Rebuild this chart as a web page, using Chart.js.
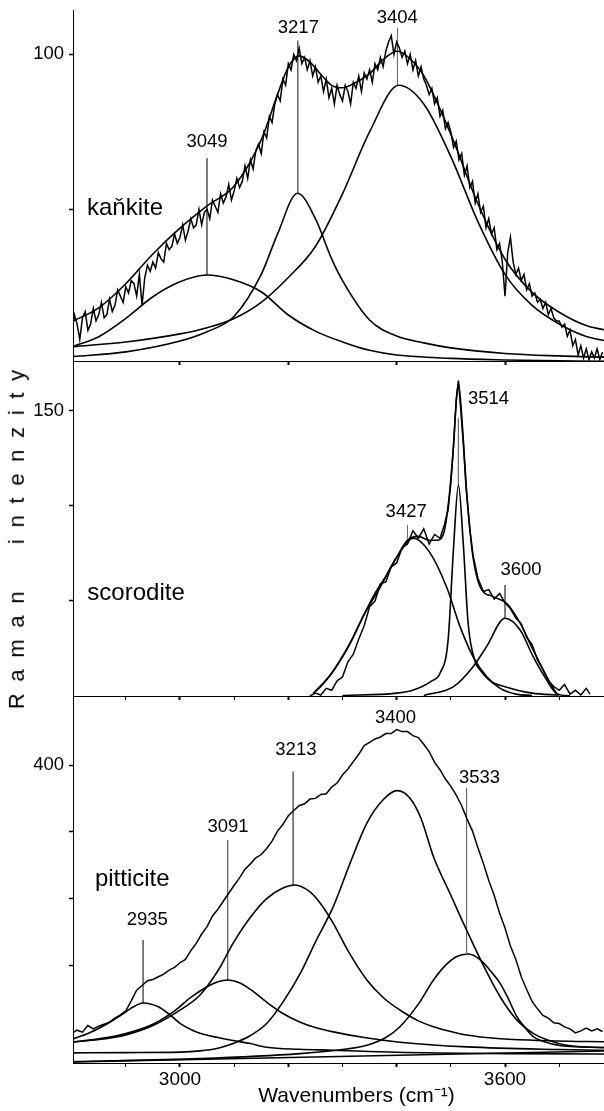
<!DOCTYPE html>
<html><head><meta charset="utf-8">
<script src="https://cdn.jsdelivr.net/npm/chart.js@4.4.1/dist/chart.umd.min.js"></script>
<style>
html,body{margin:0;padding:0;background:#fff;}
#wrap{position:relative;width:604px;height:1111px;overflow:hidden;background:#fff;}
.pan{position:absolute;left:0;}
#ytitle{position:absolute;left:0;top:0;font-family:"Liberation Sans",Arial,Helvetica,sans-serif;font-size:22px;letter-spacing:11.7px;white-space:pre;color:#000;line-height:1.15;}
</style></head><body>
<div id="wrap">
<canvas id="c1" class="pan" width="640" height="370" style="top:0px"></canvas>
<canvas id="c2" class="pan" width="640" height="349" style="top:356px"></canvas>
<canvas id="c3" class="pan" width="640" height="420" style="top:691px"></canvas>
<div id="ytitle">Raman  intenzity</div>
</div>
<script>
// ---------------- DATA ----------------
const xTickLabels = [3000, 3600];

// ---- kaňkite (top panel) ----
const kankiteWn = [2800,2805,2810,2815,2820,2825,2830,2835,2840,2845,
  2850,2855,2860,2865,2870,2875,2880,2885,2890,2895,
  2900,2905,2910,2915,2920,2925,2930,2935,2940,2945,
  2950,2955,2960,2965,2970,2975,2980,2985,2990,2995,
  3000,3005,3010,3015,3020,3025,3030,3035,3040,3045,
  3050,3055,3060,3065,3070,3075,3080,3085,3090,3095,
  3100,3105,3110,3115,3120,3125,3130,3135,3140,3145,
  3150,3155,3160,3165,3170,3175,3180,3185,3190,3195,
  3200,3205,3210,3215,3220,3225,3230,3235,3240,3245,
  3250,3255,3260,3265,3270,3275,3280,3285,3290,3295,
  3300,3305,3310,3315,3320,3325,3330,3335,3340,3345,
  3350,3355,3360,3365,3370,3375,3380,3385,3390,3395,
  3400,3405,3410,3415,3420,3425,3430,3435,3440,3445,
  3450,3455,3460,3465,3470,3475,3480,3485,3490,3495,
  3500,3505,3510,3515,3520,3525,3530,3535,3540,3545,
  3550,3555,3560,3565,3570,3575,3580,3585,3590,3595,
  3600,3605,3610,3615,3620,3625,3630,3635,3640,3645,
  3650,3655,3660,3665,3670,3675,3680,3685,3690,3695,
  3700,3705,3710,3715,3720,3725,3730,3735,3740,3745,
  3750,3755,3760,3765,3770,3775,3780];
const kankiteRaman = [10,16,13,8,15,17,11,13,18,14,
  16,20,15,16,21,17,19,24,22,20,
  25,23,27,26,22,29,19,28,32,30,
  33,31,36,34,33,39,37,38,42,39,
  41,45,40,43,47,44,45,50,45,49,
  50,47,53,51,49,55,52,54,58,53,
  56,60,57,59,64,60,66,63,69,71,
  68,75,73,80,78,84,87,85,92,90,
  97,95,100,98,102,97,99,95,98,93,
  96,91,93,88,92,86,89,84,90,87,
  85,90,88,84,91,89,93,88,94,92,
  95,91,97,95,99,96,101,104,106,100,
  104,102,99,101,97,100,95,98,93,96,
  92,90,87,89,84,86,80,82,76,78,
  75,70,72,66,68,61,64,57,59,52,
  55,49,51,44,47,42,44,37,39,33,
  22,36,41,33,29,31,27,29,24,26,
  22,23,20,21,18,20,16,18,15,14,
  14,12,13,9,11,6,8,3,6,2,
  5,1.5,4,2,5,1.5,4];
const kankiteFitWn = [2802,2850,2900,2950,3000,3050,3100,3150,3180,3200,3220,3240,3260,3280,3300,3320,3350,3380,3400,3420,3450,3500,3550,3600,3650,3700,3750,3800,3850];
const kankiteFit   = [13.9,18.2,26,35.6,43.9,51.1,57.5,72.4,87,95.9,99.5,97.5,93.5,90,89.2,90.5,93.8,99,101,99.3,93.1,74.2,51.8,33.9,23.2,16.8,12.5,10.6,9];
const kankiteB1Wn = [2802,2850,2900,2950,3000,3049,3100,3150,3200,3250,3300,3350,3400,3500,3600,3700,3850];
const kankiteB1   = [5.7,8.9,14.8,21.8,26.6,28.8,27.2,23.4,15.9,10.7,7.2,4.5,3.0,1.9,1.4,1.1,0.9];
const kankiteB2Wn = [2802,2900,3000,3050,3100,3150,3180,3217,3250,3280,3300,3350,3400,3450,3500,3600,3700,3850];
const kankiteB2   = [2.5,4.0,7.5,10.5,15.5,29,42,55.2,47,34,27,14.3,9.1,6.9,5.3,3.5,2.7,2.0];
const kankiteB3Wn = [2802,2900,3000,3050,3100,3150,3200,3250,3300,3350,3404,3450,3500,3550,3600,3650,3700,3750,3850];
const kankiteB3   = [5.7,7.2,9.8,11.8,14.8,20,28,38,55,75,90,84,67,46,29,19,13,9,6];
const kankitePeaks = ['3049','3217','3404'];
const kankitePeakWn = [3050,3218.5,3401];
const kankitePeakTextY = [70.2,106.8,110];
const kankiteLineWn = [3049.8,3217.4,3401.5];
const kankiteLineTop = [66.5,104.4,108.4];
const kankiteLineBottom = [28.8,55.2,90];

// ---- scorodite (middle panel) ----
const scoroditeWn = [3240,3250,3260,3270,3280,3290,3300,3310,3320,3330,
  3340,3350,3360,3370,3380,3390,3400,3410,3420,3430,
  3440,3450,3460,3470,3480,3488,3495,3500,3505,3510,
  3514,3518,3523,3528,3535,3541,3550,3560,3570,3580,
  3590,3600,3610,3620,3630,3640,3650,3660,3670,3680,
  3690,3700,3710,3720,3730,3740,3750,3757];
const scoroditeRaman = [0,1.5,0.5,4,3,8,10,18,22,30,
  37,47,50,59,60,68,70,78,80,87,
  83,88,80,85,83,90,98,112,132,156,
  166,152,133,110,88,74,62,55,56,51,
  54,49,46,41,38,31,27,19,14,8,
  5,3,6,1,3,0.5,4,1];
const scoroditeFitWn = [3246,3260,3280,3300,3320,3340,3360,3380,3400,3420,3440,3460,3475,3488,3498,3505,3510,3514,3518,3523,3529,3535,3541,3554,3578,3603,3628,3652,3677,3695];
const scoroditeFit   = [1.4,5,12,21,31,43,54,63,73,82,84,82,82,87,108,132,155,164.6,155,135,108,88,73,57.5,52.3,48.8,38.3,24.2,10.2,1.4];
const scoroditeB1Wn = [3246,3280,3310,3340,3370,3400,3431,3460,3492,3517,3541,3566,3591,3620,3650];
const scoroditeB1   = [1.4,12,25.5,43,57.5,73,83,76,57.5,36.5,20.7,10.2,4,1,0.3];
const scoroditeB2Wn = [3300,3400,3431,3465,3480,3495,3505,3514,3523,3532,3545,3554,3575,3600,3650,3700];
const scoroditeB2   = [0.3,1.5,3.2,8,12,29.5,78,111,80,38,18,13.7,7.5,4.9,1.5,0.5];
const scoroditeB3Wn = [3450,3505,3541,3566,3600,3628,3652,3677,3695,3720];
const scoroditeB3   = [0.3,4.9,15.4,26,40.9,34.7,20.7,8.4,1.4,0];
const scoroditePeaks = ['3427','3514','3600'];
const scoroditePeakWn = [3417.6,3569.5,3629.5];
const scoroditePeakTextY = [94.4,153.7,63.7];
const scoroditeLineWn = [3420,3514,3600];
const scoroditeLineTop = [90,146,58.4];
const scoroditeLineBottom = [83,111,41];

// ---- pitticite (bottom panel) ----
const pitticiteWn = [2800,2810,2820,2830,2840,2850,2860,2870,2880,2890,
  2900,2910,2920,2930,2940,2950,2960,2970,2980,2990,
  3000,3010,3020,3030,3040,3050,3060,3070,3080,3090,
  3100,3110,3120,3130,3140,3150,3160,3170,3180,3190,
  3200,3210,3220,3230,3240,3250,3260,3270,3280,3290,
  3300,3310,3320,3330,3340,3350,3360,3370,3380,3390,
  3400,3410,3420,3430,3440,3450,3460,3470,3480,3490,
  3500,3510,3520,3530,3540,3550,3560,3570,3580,3590,
  3600,3610,3620,3630,3640,3650,3660,3670,3680,3690,
  3700,3710,3720,3730,3740,3750,3760,3770,3780];
const pitticiteRaman = [-2,3,0,10,5,9,12,15,21,26,
  32,47,63,70,77,79,83,87,93,97,
  104,109,122,133,147,158,174,184,196,208,
  220,231,244,252,261,266,275,286,301,311,
  324,332,339,342,349,350,356,357,367,373,
  385,394,405,416,429,434,439,442,447,447,
  453,450,450,444,441,431,420,404,393,379,
  368,355,339,319,301,276,253,227,205,178,
  156,129,109,83,64,46,35,25,21,14,
  13,8,5,-1,2,6,2,5,1];
const pitticiteB1Wn = [2802,2830,2860,2890,2910,2932,2960,2980,3000,3020,3037,3070,3098,3130,3160,3220,3283,3400,3600,3850];
const pitticiteB1   = [-10,-2,10,25,36,43.7,38,27,13.2,4,-1.7,-8,-12.5,-17,-22.5,-25.5,-27,-30,-32,-33];
const pitticiteB2Wn = [2802,2850,2900,2950,2990,3020,3050,3070,3088,3110,3130,3160,3190,3222,3250,3283,3340,3406,3530,3700,3850];
const pitticiteB2   = [-14.5,-10,-2,12,32,52,68,75.5,78.1,74,64,45,28,15,7,0.5,-8,-15,-22,-26,-28];
const pitticiteB3Wn = [2802,2850,2900,2950,3000,3037,3070,3098,3130,3160,3190,3212,3240,3260,3283,3310,3345,3375,3406,3440,3468,3500,3529,3580,3652,3750,3850];
const pitticiteB3   = [-14.5,-11,-4,10,33,55.7,92,133,172,200,216,220.4,210,192,163,122,78.1,52,33.2,17,8.2,1,-4.2,-9,-12,-14,-15];
const pitticiteB4Wn = [2802,2900,3000,3037,3070,3098,3130,3160,3190,3222,3250,3283,3314,3345,3375,3401,3425,3445,3468,3500,3529,3560,3591,3620,3652,3680,3714,3760,3850];
const pitticiteB4   = [-31,-30.5,-29.8,-28,-24,-17,-5,13,45,88,135,188,253,313,348,361.6,350,320,262.7,205,153,100,53.1,20,-1.7,-12,-19.6,-22.5,-24];
const pitticiteB5Wn = [2802,3037,3222,3300,3345,3380,3406,3440,3468,3490,3510,3532,3555,3575,3591,3605,3622,3640,3652,3680,3714,3760,3850];
const pitticiteB5   = [-44,-39.5,-32,-26,-19.6,-8,8.2,42,78.1,100,113,117,108,90,73.2,52,23.2,4,-6.5,-16,-21,-22.5,-23];
const pitticiteBaseWn = [2802,3850];
const pitticiteBase   = [-44.5,-27];
const pitticitePeaks = ['2935','3091','3213','3400','3533'];
const pitticitePeakWn = [2939.6,3088.6,3214,3397.8,3552.9];
const pitticitePeakTextY = [160.5,299.7,415,462.9,373.5];
const pitticiteLineWn = [2932,3088,3209,3529];
const pitticiteLineTop = [138,287.7,390,365.6];
const pitticiteLineBottom = [43.7,78.1,220.4,118.6];

const mineralNames = ['kaňkite','scorodite','pitticite'];
const mineralNameWn = [2828.3,2829,2843];
const mineralNameY = [48.2,50.5,218.9];

// ---------------- RENDERING ----------------
const FONT = '"Liberation Sans", Arial, Helvetica, sans-serif';
const X_MIN = 2802.5, X_MAX = 3849.2;

function pts(xs, ys){ return xs.map((x,i)=>({x:x, y:ys[i]})); }
function spectrum(xs, ys){ return {data:pts(xs,ys), borderColor:'#000', borderWidth:1.5, pointRadius:0, tension:0, fill:false}; }
function smooth(xs, ys){ return {data:pts(xs,ys), borderColor:'#000', borderWidth:1.6, pointRadius:0, cubicInterpolationMode:'monotone', fill:false}; }
function markerLines(wn, top, bottom){
  return wn.map((w,i)=>({data:[{x:w,y:top[i]},{x:w,y:bottom[i]}], borderColor:'#6a6a6a', borderWidth:1, pointRadius:0, fill:false}));
}

function textPlugin(items){
  return {
    id:'txt',
    afterDatasetsDraw(chart){
      const ctx = chart.ctx, xs = chart.scales.x, ys = chart.scales.y;
      ctx.save();
      ctx.fillStyle = '#000';
      ctx.textBaseline = 'alphabetic';
      items.forEach(it=>{
        ctx.font = it.size + 'px ' + FONT;
        ctx.textAlign = it.align;
        ctx.fillText(it.text, xs.getPixelForValue(it.x), ys.getPixelForValue(it.y));
      });
      ctx.restore();
    }
  };
}

function xAxis(showLabels, minor, h, withTitle){
  return {
    type:'linear', min:X_MIN, max:X_MAX,
    border:{display:true, color:'#000', width:1},
    grid:{drawOnChartArea:false, drawTicks:true, tickLength:4,
      tickColor: c => (c.tick && Math.round(c.tick.value) % 200 === 0) ? '#000' : (minor ? '#000' : 'rgba(0,0,0,0)'),
      tickWidth: c => (c.tick && Math.round(c.tick.value) % 200 === 0) ? 2 : 1},
    ticks:{stepSize:100, includeBounds:false, autoSkip:false, maxRotation:0, minRotation:0, padding:1, color:'#000',
      font:{family:FONT, size:19},
      callback: v => (showLabels && xTickLabels.includes(Math.round(v))) ? String(Math.round(v)) : ''},
    title: withTitle ? {display:true, text:'Wavenumbers (cm\u207B\u00B9)', color:'#000', font:{family:FONT, size:21}, padding:{top:0, bottom:2}} : {display:false},
    afterFit: s => { s.height = h; s.paddingLeft = 0; s.paddingRight = 0; }
  };
}
function yAxis(min, max, step, keep, labelVal){
  return {
    type:'linear', min:min, max:max,
    border:{display:true, color:'#000', width:1},
    grid:{drawOnChartArea:false, drawTicks:true, tickLength:4, tickColor:'#000', tickWidth:1.5},
    ticks:{stepSize:step, includeBounds:false, padding:5, color:'#000', font:{family:FONT, size:18.5},
      callback: v => (Math.round(v) === labelVal) ? String(labelVal) : ''},
    afterBuildTicks: s => { s.ticks = s.ticks.filter(t => keep.includes(Math.round(t.value))); },
    afterFit: s => { s.width = 73; s.paddingTop = 0; s.paddingBottom = 0; }
  };
}

function makeChart(id, datasets, xa, ya, padTop, items){
  return new Chart(document.getElementById(id), {
    type:'line',
    data:{datasets:datasets},
    options:{
      responsive:false, animation:false, devicePixelRatio:1,
      layout:{padding:{top:padTop, left:0, right:0, bottom:0}},
      plugins:{legend:{display:false}, tooltip:{enabled:false}},
      scales:{x:xa, y:ya}
    },
    plugins:[textPlugin(items)]
  });
}

function labelItems(names, wn, ys, nameIdx){
  const items = names.map((t,i)=>({text:t, x:wn[i], y:ys[i], size:18.5, align:'center'}));
  items.push({text:mineralNames[nameIdx], x:mineralNameWn[nameIdx], y:mineralNameY[nameIdx], size:24, align:'left'});
  return items;
}

makeChart('c1',
  [spectrum(kankiteWn, kankiteRaman), smooth(kankiteFitWn, kankiteFit),
   smooth(kankiteB1Wn, kankiteB1), smooth(kankiteB2Wn, kankiteB2), smooth(kankiteB3Wn, kankiteB3)]
   .concat(markerLines(kankiteLineWn, kankiteLineTop, kankiteLineBottom)),
  xAxis(false, false, 9, false), yAxis(1.06, 114.3, 50, [50,100], 100), 10,
  labelItems(kankitePeaks, kankitePeakWn, kankitePeakTextY, 0));

makeChart('c2',
  [spectrum(scoroditeWn, scoroditeRaman), smooth(scoroditeFitWn, scoroditeFit),
   smooth(scoroditeB1Wn, scoroditeB1), smooth(scoroditeB2Wn, scoroditeB2), smooth(scoroditeB3Wn, scoroditeB3)]
   .concat(markerLines(scoroditeLineWn, scoroditeLineTop, scoroditeLineBottom)),
  xAxis(false, true, 9, false), yAxis(0, 176.3, 50, [50,100,150], 150), 5,
  labelItems(scoroditePeaks, scoroditePeakWn, scoroditePeakTextY, 1));

makeChart('c3',
  [spectrum(pitticiteWn, pitticiteRaman),
   smooth(pitticiteB1Wn, pitticiteB1), smooth(pitticiteB2Wn, pitticiteB2), smooth(pitticiteB3Wn, pitticiteB3),
   smooth(pitticiteB4Wn, pitticiteB4), smooth(pitticiteB5Wn, pitticiteB5), spectrum(pitticiteBaseWn, pitticiteBase)]
   .concat(markerLines(pitticiteLineWn, pitticiteLineTop, pitticiteLineBottom)),
  xAxis(true, true, 48, true), yAxis(-46.1, 503.3, 100, [100,200,300,400], 400), 5,
  labelItems(pitticitePeaks, pitticitePeakWn, pitticitePeakTextY, 2));

(function(){
  const el = document.getElementById('ytitle');
  const w = el.offsetWidth, h = el.offsetHeight, L = 11.7;
  const cx = 16, cy = 539 - L/2;
  el.style.left = (cx - w/2) + 'px';
  el.style.top = (cy - h/2) + 'px';
  el.style.transform = 'rotate(-90deg)';
})();
</script>
</body></html>
